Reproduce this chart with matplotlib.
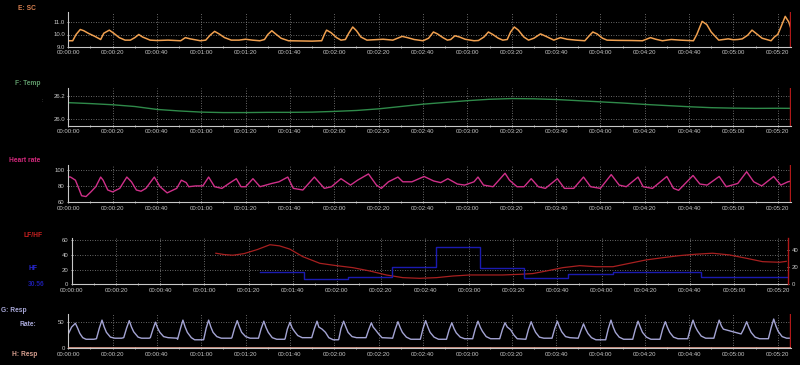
import matplotlib
matplotlib.use('Agg')
import matplotlib.pyplot as plt
import matplotlib.ticker as mticker

# ---------------- data ----------------
sc_points = [(0, 9.5), (2, 9.5), (3.5, 10.0), (5.4, 10.4), (7, 10.3), (9, 10.1), (12, 9.85), (14.6, 9.6),
             (16, 10.1), (18.5, 10.35), (20.5, 10.1), (23, 9.75), (25.6, 9.55), (28, 9.55), (30, 9.75),
             (31.8, 10.0), (33.5, 9.8), (36.9, 9.55), (40, 9.52), (45, 9.55), (50.7, 9.5), (52.8, 9.75),
             (55, 9.65), (59.6, 9.5), (62, 9.55), (64, 9.95), (66, 10.25), (68, 10.05), (70.5, 9.75),
             (73.5, 9.55), (77, 9.55), (80, 9.62), (83, 9.55), (86.4, 9.5), (88.5, 9.6), (90, 10.0),
             (91.8, 10.3), (93.5, 10.05), (96, 9.7), (99.3, 9.5), (105, 9.48), (110, 9.47), (114.3, 9.5),
             (115.5, 10.0), (116.5, 10.35), (118.5, 10.15), (121, 9.75), (123, 9.55), (125, 9.6),
             (126.5, 10.1), (128.3, 10.6), (130, 10.3), (132, 9.8), (134.7, 9.55), (138, 9.58),
             (142, 9.62), (146.4, 9.55), (148.5, 9.7), (150.6, 9.85), (153, 9.75), (156, 9.6), (160, 9.5),
             (162.5, 9.7), (164.7, 10.2), (166.5, 10.05), (169, 9.75), (171, 9.55), (172.5, 9.6),
             (174.4, 9.9), (176.5, 9.8), (179, 9.62), (183, 9.5), (185, 9.52), (187.5, 9.8), (189.5, 10.2),
             (191.5, 10.0), (194, 9.7), (196, 9.55), (198, 9.6), (199.5, 10.2), (201.2, 10.6),
             (203, 10.35), (205.5, 9.8), (207.6, 9.55), (210, 9.7), (213, 10.05), (215.5, 9.85),
             (219, 9.55), (222, 9.75), (225, 9.62), (229, 9.55), (233, 9.5), (235, 9.9), (236.6, 10.2),
             (238.5, 10.05), (241, 9.7), (243, 9.55), (248, 9.53), (254, 9.52), (259, 9.5), (262.6, 9.75),
             (265, 9.62), (268, 9.5), (272, 9.6), (276, 9.55), (282, 9.5), (283.5, 10.0), (285.9, 11.05),
             (288, 10.8), (290, 10.2), (293.4, 9.55), (295.5, 9.6), (297.7, 9.65), (300, 9.58), (302, 9.6),
             (304, 9.65), (306.5, 9.95), (308.4, 10.35), (310.5, 10.05), (313, 9.7), (317, 9.5),
             (318.5, 9.8), (320, 10.0), (321, 10.4), (323.4, 11.45), (325, 11.0), (326.5, 10.2),
             (327.7, 9.7)]

temp_points = [(0, 26.143), (10, 26.135), (20, 26.125), (30, 26.11), (40, 26.085), (50, 26.072),
               (60, 26.062), (70, 26.058), (80, 26.058), (90, 26.06), (100, 26.06), (110, 26.062),
               (120, 26.068), (130, 26.076), (140, 26.09), (150, 26.11), (160, 26.13), (170, 26.145),
               (180, 26.16), (190, 26.172), (200, 26.178), (210, 26.176), (220, 26.17), (230, 26.16),
               (240, 26.15), (250, 26.14), (260, 26.128), (270, 26.118), (280, 26.108), (290, 26.1),
               (300, 26.096), (310, 26.094), (320, 26.095), (328, 26.094)]

hr_points = [(0, 91), (1, 90.8), (3.2, 87), (5, 75), (6, 68), (8, 67), (10.3, 73), (12.4, 79), (14.6, 90.8),
             (15.7, 87), (17.8, 75), (20, 72.7), (23.2, 77), (26.4, 90.8), (28.5, 85), (30.7, 75),
             (32.8, 73.5), (35, 77), (38.8, 90.8), (41.4, 79), (44.6, 71.5), (48.9, 77), (51, 87),
             (53.2, 84), (54.3, 79), (57.5, 80), (60.7, 80), (63.3, 90.8), (66, 79), (69.3, 77), (72.5, 83),
             (75.8, 88.8), (77.9, 79), (80, 79), (83.3, 88.8), (86.5, 79), (91.8, 83), (95, 85), (99, 90.8),
             (101.5, 77), (105.8, 75), (111, 90.8), (115.5, 77), (118.7, 79), (123, 88.8), (127.3, 81),
             (130.5, 87), (135.4, 94.6), (139, 81), (141.2, 77), (144.4, 85), (148.7, 90.8), (150.9, 85),
             (155, 85), (160.5, 91.5), (164.8, 86), (168, 84), (171.2, 88.8), (175.5, 82.3), (178.8, 81),
             (183, 85), (184.8, 90.8), (187.3, 81), (191.6, 79), (197, 95.4), (199, 87), (202.4, 79),
             (205.6, 79), (208.8, 88.8), (212, 79), (215.2, 77), (220.6, 88.8), (223.8, 77), (228, 77),
             (232.4, 90.8), (235.6, 79), (240, 77), (244.9, 93.8), (248.5, 81), (251.7, 79), (257, 90.8),
             (259.3, 79), (263.5, 77), (270, 91.5), (273, 77), (275.3, 74.6), (281.8, 92.7), (284.9, 82.3),
             (288.2, 81), (293.6, 91.5), (296.8, 79), (302, 83), (306, 97.3), (309.2, 85), (312.8, 80),
             (318.2, 91.5), (321.4, 81), (324.6, 85), (327.8, 87)]

lfhf_points = [(65.2, 42), (69, 40.2), (72.9, 39.3), (78, 41.5), (84, 47), (89.7, 53.5), (94, 52),
               (98.7, 47.6), (104.6, 37.4), (112.3, 28.4), (119.9, 25.2), (127.3, 22.5), (135, 18),
               (142.5, 12.6), (149.9, 9), (157.6, 8.1), (165.2, 9), (172.6, 11.2), (180.3, 12.6),
               (187.8, 12.6), (195.2, 12.6), (202.9, 13.5), (208.8, 14.5), (215, 18), (222.4, 22.5),
               (230.1, 25.2), (237.6, 23.8), (245.2, 23.8), (252.7, 28.4), (260.3, 33), (267.8, 36),
               (275.4, 38.8), (282.9, 40.7), (290.3, 42), (298, 39.7), (305.6, 35.2), (313, 30.6),
               (320.7, 29.8), (323.7, 31)]

hf_edges = [85, 105, 125, 145, 165, 185, 205, 225, 245, 265, 285, 305, 324.3]
hf_levels = [14.7, 5.8, 8.5, 20.5, 43.8, 18.6, 7.0, 11.7, 14.0, 14.0, 8.9, 8.9, 8.9]

resp_points = [(0, 27), (1.5, 40), (3.2, 47), (4.2, 38), (5.2, 28), (6.5, 20), (8, 17), (11.5, 17),
               (12.7, 18), (14, 38), (15.2, 53), (16.2, 40), (17.2, 30), (19, 21), (21, 19), (24, 19),
               (25, 20), (26.3, 38), (27.5, 52), (28.5, 40), (29.5, 31), (31.5, 21), (33, 19), (36.5, 19),
               (37, 20), (38.2, 36), (39.3, 49), (40.3, 38), (41.3, 30), (43, 22), (45, 20), (49, 19),
               (49.3, 17), (50.5, 36), (51.7, 53), (52.7, 40), (53.7, 30), (55.5, 20), (57, 16), (61, 16),
               (61.1, 17), (62.2, 38), (63.3, 53), (64.3, 40), (65.3, 30), (67, 22), (69, 19), (73.5, 19),
               (73.8, 20), (75, 38), (76.2, 52), (77.2, 40), (78.2, 30), (80, 22), (82, 19), (85.6, 19),
               (85.8, 19), (87, 37), (88.2, 51), (89.2, 39), (90.2, 30), (92, 20), (94, 17), (97.6, 17),
               (97.8, 18), (98.8, 36), (100, 49), (101, 38), (102, 32), (103.5, 24), (105.5, 20), (109.6, 20),
               (109.8, 20), (111, 37), (112.2, 51), (113, 40), (114.5, 36), (116, 30), (117.5, 20),
               (119.5, 16), (121.8, 16), (122, 17), (123, 37), (124.2, 51), (125.2, 40), (126.2, 30),
               (128, 22), (130, 20), (134.3, 20), (135.5, 35), (136.7, 48), (137.5, 40), (138.5, 35),
               (140, 27), (141.5, 20), (146.3, 19), (147.5, 36), (148.7, 50), (149.7, 39), (150.7, 30),
               (152.5, 21), (154.5, 17), (158.8, 17), (160, 37), (161.2, 52), (162.2, 40), (163.2, 30),
               (165, 21), (167, 17), (170.6, 17), (171.8, 35), (173, 48), (174, 37), (175, 29),
               (176.8, 21), (178.8, 18), (182.4, 18), (183.6, 37), (184.8, 51), (185.8, 40), (186.8, 32),
               (188.5, 22), (190.5, 18), (194.6, 18), (195.8, 35), (197, 48), (198, 40), (199.5, 35),
               (201, 25), (202.5, 18), (206.4, 17), (207.6, 36), (208.8, 50), (209.8, 39), (210.8, 30),
               (212.5, 21), (214.5, 19), (218.2, 19), (219.4, 37), (220.6, 51), (221.6, 40), (222.6, 31),
               (224.3, 22), (226.3, 20), (230, 19), (231.2, 33), (232.4, 46), (233.4, 36), (234.4, 28),
               (236, 20), (238, 16), (242.4, 16), (243.6, 37), (244.8, 53), (245.8, 40), (246.8, 30),
               (248.5, 21), (250.5, 17), (254.6, 17), (255.8, 36), (257, 51), (258, 40), (259, 30),
               (260.8, 21), (262.8, 17), (266.9, 17), (268.1, 36), (269.3, 50), (270.3, 39), (271.3, 30),
               (273, 21), (275, 18), (279.4, 18), (280.6, 37), (281.8, 53), (282.8, 41), (283.8, 33),
               (285.5, 23), (287.5, 19), (291.2, 19), (292.4, 37), (293.6, 53), (294.6, 42), (295.5, 36),
               (300, 31), (303.5, 27), (304.5, 35), (306, 50), (307, 39), (308, 30), (309.8, 21),
               (311.8, 18), (315.8, 18), (317, 38), (318.2, 55), (319.2, 42), (320.2, 32), (322, 22),
               (324, 19), (328, 19)]

# ---------------- layout ----------------
W, H = 800, 365
fig = plt.figure(figsize=(8, 3.65), dpi=100, facecolor='black')
plt.rcParams['font.family'] = ['Liberation Sans', 'DejaVu Sans']

TXT = '#c8c8c8'


def hms(x, pos):
    s = int(round(x))
    return f"{s // 3600:02d}:{(s % 3600) // 60:02d}:{s % 60:02d}"


def add_axes(l, r, t, b):
    return fig.add_axes([l / W, 1 - b / H, (r - l) / W, (b - t) / H])


def style(ax, xmax, ylim, yticks, fmt):
    ax.set_facecolor('black')
    ax.set_xlim(0, xmax)
    ax.set_ylim(*ylim)
    ax.xaxis.set_major_locator(mticker.MultipleLocator(20))
    ax.xaxis.set_minor_locator(mticker.MultipleLocator(10))
    ax.xaxis.set_major_formatter(mticker.FuncFormatter(hms))
    ax.set_yticks(yticks)
    ax.yaxis.set_major_formatter(mticker.FormatStrFormatter(fmt))
    for s in ['top', 'right']:
        ax.spines[s].set_visible(False)
    for s in ['left', 'bottom']:
        ax.spines[s].set_color(TXT)
        ax.spines[s].set_linewidth(0.8)
    ax.tick_params(which='both', colors=TXT, labelsize=4.3, length=2, width=0.6,
                   pad=1.5, direction='inout')
    ax.tick_params(which='minor', length=1.5)
    ax.grid(True, which='major', color='#8a8a8a', linestyle=(0, (1, 2)), linewidth=0.6)
    ax.set_axisbelow(True)


def label(x, y, s, color, size=4.8, weight='bold'):
    fig.text(x / W, 1 - y / H, s, color=color, fontsize=size, fontweight=weight,
             ha='left', va='center')


CURSOR = '#b01818'
XMAX = 326.0

# Panel 1: SC
ax1 = add_axes(68.3, 791, 12, 47)
style(ax1, XMAX, (9.0, 11.8), [9.0, 10.0, 11.0], '%.1f')
t, v = zip(*sc_points)
ax1.plot(t, v, color='#f0a050', lw=1.1)
ax1.axvline(XMAX - 0.6, color=CURSOR, lw=1.0)
label(18, 8, 'E: SC', '#d88050')

# Panel 2: Temp
ax2 = add_axes(68.3, 791, 88.3, 126)
style(ax2, XMAX, (25.943, 26.266), [26.0, 26.2], '%.1f')
t, v = zip(*temp_points)
ax2.plot(t, v, color='#2f8a4a', lw=1.0)
ax2.axvline(XMAX - 0.6, color=CURSOR, lw=1.0)
label(15, 83.3, 'F: Temp', '#5f9a6a')
label(41, 100, ':', '#707070', size=4, weight='normal')

# Panel 3: Heart rate
ax3 = add_axes(68.3, 791, 165, 202.3)
style(ax3, XMAX, (60, 105.5), [60, 80, 100], '%d')
t, v = zip(*hr_points)
ax3.plot(t, v, color='#d0308a', lw=1.0)
ax3.axvline(XMAX - 0.6, color=CURSOR, lw=1.0)
label(9, 160.7, 'Heart rate', '#d4287c')

# Panel 4: LF/HF and HF
ax4 = add_axes(72, 788, 237.7, 284.3)
style(ax4, 324.5, (0, 63), [0, 20, 40, 60], '%d')
t, v = zip(*lfhf_points)
ax4.plot(t, v, color='#a82020', lw=0.9, zorder=3)
ax4r = ax4.twinx()
ax4r.set_ylim(0, 54.2)
ax4r.set_yticks([0, 20, 40])
ax4r.yaxis.set_major_formatter(mticker.FormatStrFormatter('%d'))
for s in ['top', 'left', 'bottom']:
    ax4r.spines[s].set_visible(False)
ax4r.spines['right'].set_color(CURSOR)
ax4r.spines['right'].set_linewidth(1.0)
ax4r.tick_params(colors=TXT, labelsize=4.3, length=2, width=0.6, pad=1.5, direction='inout')
ax4r.step(hf_edges, hf_levels, where='post', color='#1a1ab0', lw=1.0)
label(24, 235.7, 'LF/HF', '#c82020')
label(29, 269, 'HF', '#2828d8')
label(28, 285, '30.56', '#1c1ca8')

# Panel 5: Resp
ax5 = add_axes(68.3, 791, 314, 348.3)
style(ax5, XMAX, (0, 64.5), [0, 50], '%d')
t, v = zip(*resp_points)
ax5.plot(t, v, color='#a4a4d4', lw=1.0)
ax5.axhline(0.3, color='#e0a090', lw=1.2, zorder=4)
ax5.axvline(XMAX - 0.6, color=CURSOR, lw=1.0)
label(1, 311, 'G: Resp', '#a8a8d8')
label(20, 325, 'Rate:', '#a8a8d8')
label(12, 354, 'H: Resp', '#d8a090')

fig.savefig('out.png', dpi=100, facecolor='black')
